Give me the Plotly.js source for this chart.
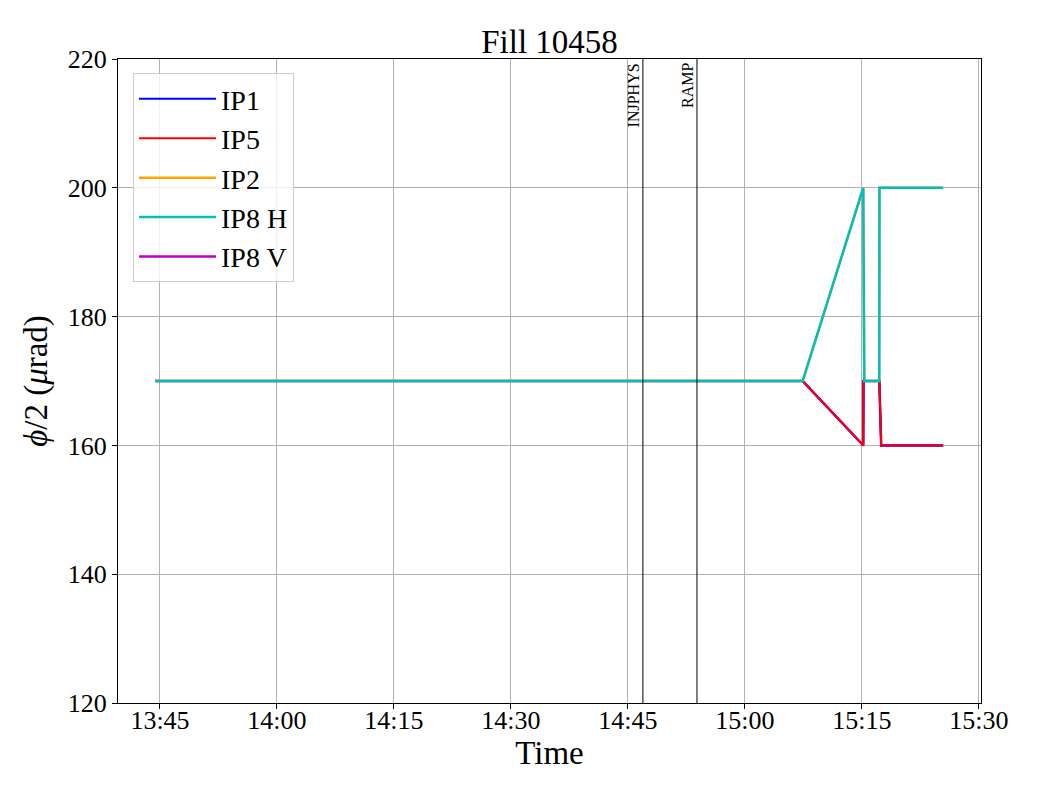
<!DOCTYPE html>
<html>
<head>
<meta charset="utf-8">
<script src="https://cdn.plot.ly/plotly-3.0.1.min.js"></script>
<style>html,body{margin:0;padding:0;background:#fff;}#chart{width:1040px;height:800px;}</style>
</head>
<body>
<div id="chart"></div>
<script>
// Times (same date, Fill 10458)
const tIP15 = ["2025-05-01 13:44:22","2025-05-01 15:07:24","2025-05-01 15:15:10","2025-05-01 15:15:12","2025-05-01 15:17:14","2025-05-01 15:17:20","2025-05-01 15:17:28","2025-05-01 15:25:25"];
const vIP1  = [170,170,160,170,170,165,160,160];
const vIP5  = [170,170,160,170,170,165,160,160];
const vIP8V = [170,170,160,170,170,165,160,160];
const tIP28 = ["2025-05-01 13:44:22","2025-05-01 15:07:24","2025-05-01 15:15:10","2025-05-01 15:15:18","2025-05-01 15:17:13","2025-05-01 15:17:15","2025-05-01 15:25:25"];
const vIP2  = [170,170,200,170,170,200,200];
const vIP8H = [170,170,200,170,170,200,200];
const markerTimes  = ["2025-05-01 14:46:55","2025-05-01 14:53:51"];
const markerLabels = ["INJPHYS","RAMP"];
const xRange = ["2025-05-01 13:39:37","2025-05-01 15:30:16"];
const yTicks = [120,140,160,180,200,220];

const font = "'Liberation Serif', 'Times New Roman', serif";
const traces = [
  {x:tIP15, y:vIP8V, name:"IP8 V", line:{color:"#bf00bf", width:2.5}, legendrank:5},
  {x:tIP15, y:vIP1,  name:"IP1",   line:{color:"#0000ff", width:2}, legendrank:1},
  {x:tIP15, y:vIP5,  name:"IP5",   line:{color:"#ff0000", width:2}, legendrank:2},
  {x:tIP28, y:vIP2,  name:"IP2",   line:{color:"#ffa500", width:2.5}, legendrank:3},
  {x:tIP28, y:vIP8H, name:"IP8 H", line:{color:"#00bfbf", width:2.5}, legendrank:4}
].map(t => Object.assign({type:"scatter", mode:"lines", legendgroup:t.name}, t));

const shapes = markerTimes.map(t => ({type:"line", xref:"x", yref:"paper", x0:t, x1:t, y0:0, y1:1, line:{color:"#000", width:1}}));
const annotations = markerTimes.map((t,i) => ({
  x:t, xref:"x", y:1, yref:"paper", text:markerLabels[i], showarrow:false,
  textangle:-90, xanchor:"right", yanchor:"top", xshift:1, yshift:-2,
  font:{family:font, size:16, color:"#000"}
}));

const layout = {
  width:1040, height:800,
  margin:{l:118, r:59, t:59, b:97},
  paper_bgcolor:"#fff", plot_bgcolor:"#fff",
  font:{family:font, color:"#000", size:26},
  title:{text:"Fill 10458", font:{family:font, size:33}, x:0.5, xref:"paper", y:0.948, yanchor:"middle"},
  xaxis:{type:"date", range:xRange, tickformat:"%H:%M", dtick:15*60*1000, tick0:"2025-05-01 13:45:00",
    showgrid:true, gridcolor:"#b0b0b0", gridwidth:1, showline:true, linecolor:"#000", linewidth:1, mirror:true,
    ticks:"outside", ticklen:5, tickcolor:"#000", tickfont:{family:font, size:26}, zeroline:false,
    ticklabelstandoff:-11,
    title:{text:"Time", font:{family:font, size:33}, standoff:2}},
  yaxis:{range:[120,220], tickvals:yTicks, showgrid:true, gridcolor:"#b0b0b0", gridwidth:1,
    showline:true, linecolor:"#000", linewidth:1, mirror:true, ticks:"outside", ticklen:5, tickcolor:"#000",
    tickfont:{family:font, size:26}, zeroline:false,
    title:{text:"<i>ϕ</i>/2 (<i>μ</i>rad)", font:{family:font, size:33}, standoff:10}},
  showlegend:true,
  legend:{x:0.0174, y:0.978, xanchor:"left", yanchor:"top", bgcolor:"rgba(255,255,255,0.8)",
    bordercolor:"#cccccc", borderwidth:1, font:{family:font, size:28}, tracegroupgap:0, itemwidth:77},
  shapes:shapes, annotations:annotations
};
Plotly.newPlot("chart", traces, layout, {staticPlot:true});
</script>
</body>
</html>
